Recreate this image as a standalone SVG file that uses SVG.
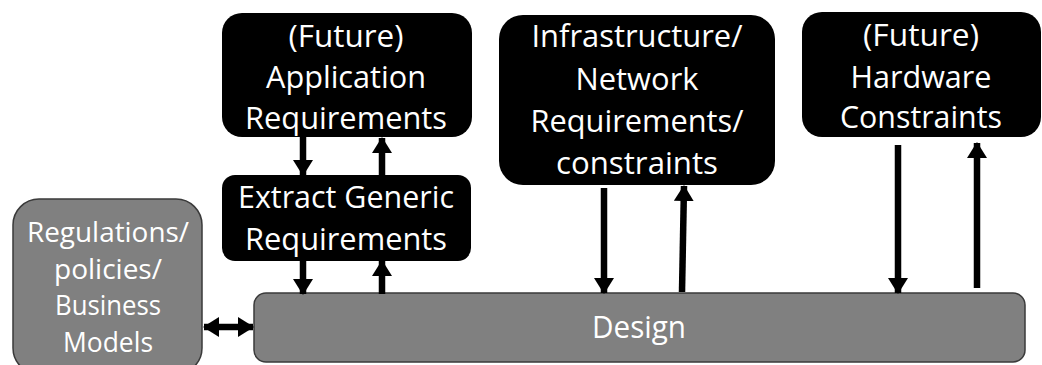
<svg xmlns="http://www.w3.org/2000/svg" width="1042" height="365" viewBox="0 0 1042 365">
  <style>
    .blk { fill: #000000; }
    .gry { fill: #808080; stroke: #3a3a3a; stroke-width: 1.5; }
    .lbl { font-family: "Open Sans", "Noto Sans", sans-serif; font-size: 31px; fill: #ffffff; text-anchor: middle; }
    .sm { font-size: 28px; }
    .arr { stroke: #000000; stroke-width: 6.5; fill: none; }
  </style>
  <defs>
    <marker id="head" viewBox="0 0 16 20" refX="15" refY="10" markerWidth="16" markerHeight="20" markerUnits="userSpaceOnUse" orient="auto-start-reverse">
      <path d="M0,0 L16,10 L0,20 Z" fill="#000000"/>
    </marker>
  </defs>
  <rect width="1042" height="365" fill="#ffffff"/>

  <g id="app-req">
    <rect class="blk" x="222" y="13" width="250" height="124" rx="20"/>
    <text class="lbl" x="346" y="47" textLength="115" lengthAdjust="spacingAndGlyphs">(Future)</text>
    <text class="lbl" x="346" y="88" textLength="160" lengthAdjust="spacingAndGlyphs">Application</text>
    <text class="lbl" x="346" y="129" textLength="202" lengthAdjust="spacingAndGlyphs">Requirements</text>
  </g>

  <g id="extract">
    <rect class="blk" x="222" y="175" width="249" height="86" rx="13"/>
    <text class="lbl" x="346" y="208" textLength="216" lengthAdjust="spacingAndGlyphs">Extract Generic</text>
    <text class="lbl" x="346" y="250" textLength="202" lengthAdjust="spacingAndGlyphs">Requirements</text>
  </g>

  <g id="infra">
    <rect class="blk" x="499" y="15" width="276" height="170" rx="24"/>
    <text class="lbl" x="637" y="47" textLength="211" lengthAdjust="spacingAndGlyphs">Infrastructure/</text>
    <text class="lbl" x="637" y="90" textLength="123" lengthAdjust="spacingAndGlyphs">Network</text>
    <text class="lbl" x="637" y="132" textLength="213" lengthAdjust="spacingAndGlyphs">Requirements/</text>
    <text class="lbl" x="637" y="174" textLength="162" lengthAdjust="spacingAndGlyphs">constraints</text>
  </g>

  <g id="hardware">
    <rect class="blk" x="802" y="12" width="239" height="125" rx="20"/>
    <text class="lbl" x="921" y="46" textLength="116" lengthAdjust="spacingAndGlyphs">(Future)</text>
    <text class="lbl" x="921" y="88" textLength="141" lengthAdjust="spacingAndGlyphs">Hardware</text>
    <text class="lbl" x="921" y="128" textLength="162" lengthAdjust="spacingAndGlyphs">Constraints</text>
  </g>

  <g id="regulations">
    <rect class="gry" x="13" y="199" width="189" height="175" rx="26"/>
    <text class="lbl sm" x="108" y="242" textLength="162" lengthAdjust="spacingAndGlyphs">Regulations/</text>
    <text class="lbl sm" x="108" y="279" textLength="108" lengthAdjust="spacingAndGlyphs">policies/</text>
    <text class="lbl sm" x="108" y="315" textLength="106" lengthAdjust="spacingAndGlyphs">Business</text>
    <text class="lbl sm" x="108" y="352" textLength="90" lengthAdjust="spacingAndGlyphs">Models</text>
  </g>

  <g id="design">
    <rect class="gry" x="254" y="293" width="771" height="69" rx="12"/>
    <text class="lbl" x="639" y="338" textLength="94" lengthAdjust="spacingAndGlyphs">Design</text>
  </g>

  <g id="connectors">
    <line class="arr" x1="303" y1="137" x2="303" y2="175" marker-end="url(#head)"/>
    <line class="arr" x1="382" y1="175" x2="382" y2="138" marker-end="url(#head)"/>
    <line class="arr" x1="303" y1="261" x2="303" y2="294" marker-end="url(#head)"/>
    <line class="arr" x1="382" y1="294" x2="382" y2="261" marker-end="url(#head)"/>
    <line class="arr" x1="604" y1="188" x2="604" y2="293" marker-end="url(#head)"/>
    <line class="arr" x1="682" y1="292" x2="684" y2="186" marker-end="url(#head)"/>
    <line class="arr" x1="898" y1="145" x2="898" y2="293" marker-end="url(#head)"/>
    <line class="arr" x1="977" y1="288" x2="977" y2="143" marker-end="url(#head)"/>
    <line class="arr" x1="204" y1="327" x2="253" y2="327" marker-start="url(#head)" marker-end="url(#head)"/>
  </g>
</svg>
